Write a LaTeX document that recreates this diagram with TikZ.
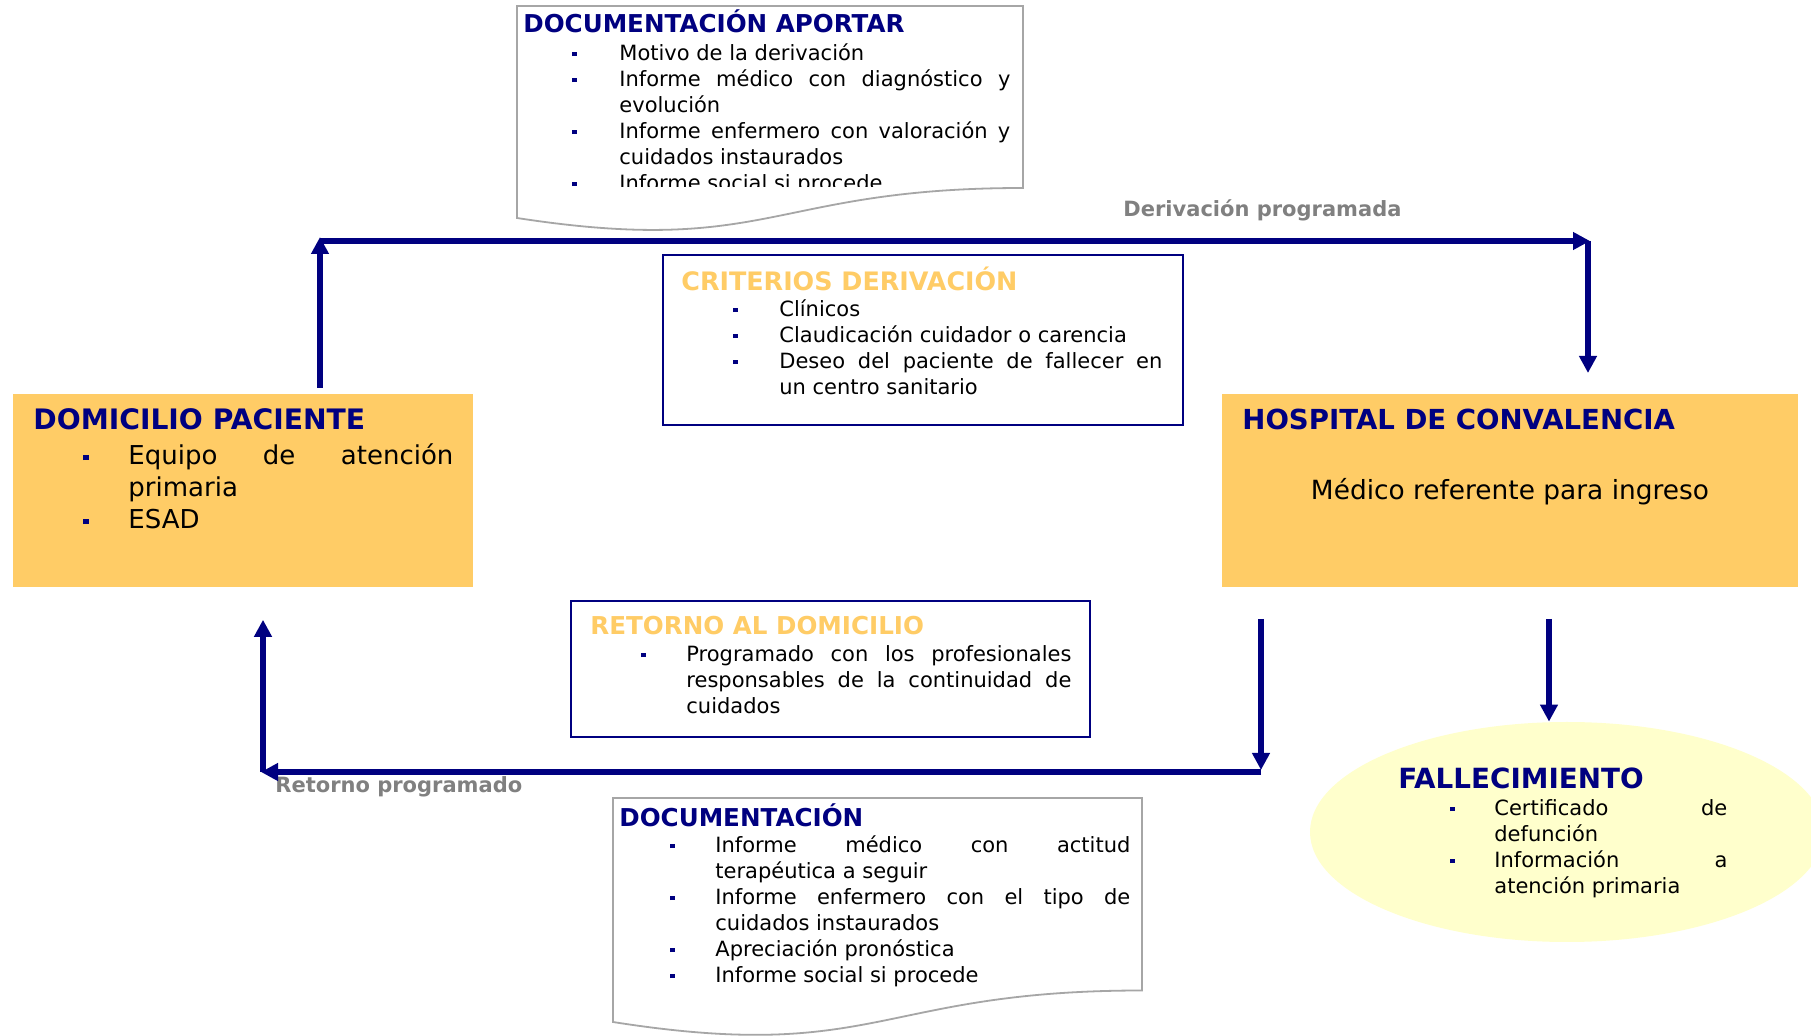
\documentclass[tikz,border=0pt]{standalone}
\usepackage{fontspec}
\setmainfont{DejaVu Sans}
\usetikzlibrary{arrows.meta,shapes.geometric}
\definecolor{navy}{HTML}{000080}
\definecolor{gold}{HTML}{FFCC66}
\definecolor{paleyellow}{HTML}{FFFFCC}
\definecolor{labelgray}{HTML}{808080}
\definecolor{docgray}{HTML}{A6A6A6}
\hyphenpenalty=10000
\exhyphenpenalty=10000
\tolerance=9999
\hbadness=10000
\hfuzz=20pt
\newcommand{\sqbullet}{{\color{navy}\rule[0.19em]{0.2em}{0.2em}}}
\newcommand{\itm}[2]{\par\noindent\llap{\makebox[#1][l]{\sqbullet}}\strut#2}
\tikzset{
  arr/.style={draw=navy, line width=3pt, -{Triangle[length=8.5pt,width=8.5pt]}},
  goldbox/.style={anchor=north west, fill=gold, draw=none, inner sep=0pt},
  framebox/.style={anchor=north west, fill=white, draw=navy, line width=0.8pt, inner sep=0pt},
  docshape/.style={fill=white, draw=docgray, line width=0.9pt},
  listtext/.style={anchor=north west, inner sep=0pt, align=justify, font=\fontsize{10.5}{13}\selectfont},
  bigtext/.style={anchor=north west, inner sep=0pt, align=justify, font=\fontsize{13}{16}\selectfont},
  navytitle/.style={anchor=base west, inner sep=0pt, text=navy, font=\bfseries\fontsize{12.3}{14}\selectfont},
  goldtitle/.style={anchor=base west, inner sep=0pt, text=gold, font=\bfseries\fontsize{12.3}{14}\selectfont},
  boxtitle/.style={anchor=base west, inner sep=0pt, text=navy, font=\bfseries\fontsize{13.8}{16}\selectfont},
  graylabel/.style={anchor=base west, inner sep=0pt, text=labelgray, font=\bfseries\fontsize{10.5}{13}\selectfont}
}
\begin{document}
\begin{tikzpicture}[x=0.5pt,y=-0.5pt]
\useasboundingbox (0,0) rectangle (1811,1036);
\fill[white] (0,0) rectangle (1811,1036);
\clip (0,0) rectangle (1811,1036);

% ---- top document shape
\draw[docshape] (517,6) -- (1023,6) -- (1023,188) .. controls (770,188) and (770,257) .. (517,218) -- cycle;
\node[navytitle] (docaTitle) at (523,33) {DOCUMENTACIÓN APORTAR};
\begin{scope}
\clip (560,0) rectangle (1030,187);
\node[listtext, text width=195.5pt] (docaList) at (619,33.8) {%
\itm{23.5pt}{Motivo de la derivación}
\itm{23.5pt}{Informe médico con diagnóstico y\linebreak evolución}
\itm{23.5pt}{Informe enfermero con valoración y\linebreak cuidados instaurados}
\itm{23.5pt}{Informe social si procede}};
\end{scope}

% ---- label top
\node[graylabel] (derivLabel) at (1123,216.5) {Derivación programada};

% ---- criterios box
\node[framebox, minimum width=260pt, minimum height=85pt] (crit) at (662,254) {};
\node[goldtitle, font=\bfseries\fontsize{12.7}{14}\selectfont] (critTitle) at (681,291) {CRITERIOS DERIVACIÓN};
\node[listtext, text width=191.5pt] (critList) at (779,289.8) {%
\itm{23pt}{Clínicos}
\itm{23pt}{Claudicación cuidador o carencia}
\itm{23pt}{Deseo del paciente de fallecer en\linebreak un centro sanitario}};

% ---- domicilio
\node[goldbox, minimum width=230pt, minimum height=96.5pt] (dom) at (13,394) {};
\node[boxtitle, font=\bfseries\fontsize{14.1}{16}\selectfont] (domTitle) at (33,430) {DOMICILIO PACIENTE};
\node[bigtext, text width=162.5pt] (domList) at (128,432.6) {%
\itm{22.5pt}{Equipo de atención\linebreak primaria}
\itm{22.5pt}{ESAD}};

% ---- hospital
\node[goldbox, minimum width=288pt, minimum height=96.5pt] (hosp) at (1222,394) {};
\node[boxtitle] (hospTitle) at (1242,430) {HOSPITAL DE CONVALENCIA};
\node[anchor=base, inner sep=0pt, font=\fontsize{13.2}{16}\selectfont] (hospText) at (1510,500) {Médico referente para ingreso};

% ---- retorno box
\node[framebox, minimum width=259.5pt, minimum height=68pt] (ret) at (570,600) {};
\node[goldtitle] (retTitle) at (590,635) {RETORNO AL DOMICILIO};
\node[listtext, text width=192.5pt] (retList) at (686,634.8) {%
\itm{22.5pt}{Programado con los profesionales\linebreak responsables de la continuidad de\linebreak cuidados}};

% ---- bottom document shape
\draw[docshape] (613,798) -- (1142,798) -- (1142,990.5) .. controls (877.5,990.5) and (877.5,1063.7) .. (613,1022) -- cycle;
\node[navytitle] (docbTitle) at (619,827) {DOCUMENTACIÓN};
\node[listtext, text width=207.5pt] (docbList) at (715,825.8) {%
\itm{22.5pt}{Informe médico con actitud\linebreak terapéutica a seguir}
\itm{22.5pt}{Informe enfermero con el tipo de\linebreak cuidados instaurados}
\itm{22.5pt}{Apreciación pronóstica}
\itm{22.5pt}{Informe social si procede}};

% ---- fallecimiento
\node[ellipse, fill=paleyellow, draw=none, inner sep=0pt, minimum width=257pt, minimum height=110pt] (fall) at (1567,832) {};
\node[navytitle, font=\bfseries\fontsize{13.9}{16}\selectfont] (fallTitle) at (1398,789) {FALLECIMIENTO};
\node[listtext, text width=116.5pt] (fallList) at (1494,788.8) {%
\itm{22pt}{Certificado de\linebreak defunción}
\itm{22pt}{Información a\linebreak atención primaria}};

% ---- label bottom
\node[graylabel] (retLabel) at (275,793) {Retorno programado};

% ---- connectors
\coordinate (tl) at (320,241);
\coordinate (tr) at (1588,241);
\coordinate (br) at (1261,772);
\coordinate (bl) at (263,772);
\coordinate (fx) at (1549,700);
\draw[arr] ([yshift=3pt]dom.north -| tl) -- ([yshift=2pt]tl);
\draw[arr] (tl) -- ([xshift=1pt]tr);
\draw[arr] (tr) -- ([yshift=10.5pt]hosp.north -| tr);
\draw[arr] ([yshift=-15.5pt]hosp.south -| br) -- ([yshift=1pt]br);
\draw[arr] (br) -- ([xshift=-1pt]bl);
\draw[arr] (bl) -- ([yshift=-16pt]dom.south -| bl);
\draw[arr] ([yshift=-15.5pt]hosp.south -| fx) -- (fall.north -| fx);
\end{tikzpicture}
\end{document}
